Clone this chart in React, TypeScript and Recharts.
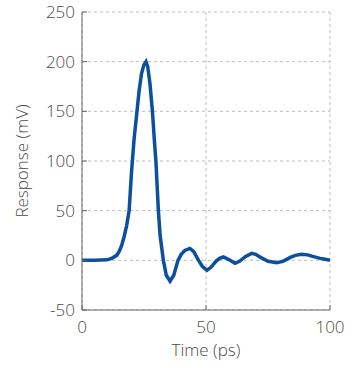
import React from 'react';
import { LineChart, Line, XAxis, YAxis, CartesianGrid } from 'recharts';

// time in ps, response in mV
const timePs = [
  0, 5, 10, 12, 14, 15, 16, 17, 18, 19, 20, 21, 22, 23, 24, 25, 25.8, 26.5, 27.4, 28.4,
  29.2, 29.8, 30.8, 31.5, 32.8, 34, 35.5, 37, 38.7, 40, 41.5, 43.5, 45, 47, 48.5, 50.4,
  52, 54, 55.5, 57, 59, 61.7, 63.5, 66, 68.4, 70, 72, 75, 78.5, 81, 84, 86, 88.6, 91,
  93, 96, 98, 100,
];
const responseMv = [
  0, 0, 0.5, 2, 5, 9, 15, 24, 35, 50, 90, 122, 146, 170, 188, 197, 200, 195, 178, 150,
  120, 100, 50, 25, 0, -15, -21, -15, 0, 6, 10, 12, 9, 0, -6, -10,
  -7, -1, 2, 3.5, 1, -3, -1, 4, 7, 6, 3, -1, -2.5, -1, 3, 5, 6, 5.5,
  4, 2, 1, 0,
];
const xTicks = [0, 50, 100];
const yTicks = [-50, 0, 50, 100, 150, 200, 250];

const data = timePs.map((t, i) => ({ t, v: responseMv[i] }));

const font = '"Open Sans", sans-serif';
const textColor = '#4a4a4a';
const axisColor = '#666';
const textStyle = { fill: textColor, fontSize: 17, fontFamily: font, fontWeight: 300 };

export default function App() {
  return (
    <div style={{ position: 'absolute', left: 0, top: 0, width: 359, height: 368, background: '#fff' }}>
      <LineChart width={359} height={368} data={data} margin={{ top: 12, right: 29, bottom: 8, left: 0 }}>
        <CartesianGrid stroke="#bdbdbd" strokeDasharray="3 3" />
        <XAxis
          dataKey="t"
          type="number"
          domain={[0, 100]}
          ticks={xTicks}
          height={50}
          tickSize={-5}
          tickMargin={16}
          stroke={axisColor}
          tick={textStyle}
          label={{ value: 'Time (ps)', position: 'insideBottom', offset: 4, ...textStyle }}
        />
        <XAxis xAxisId="top" dataKey="t" type="number" domain={[0, 100]} orientation="top" height={0} tick={false} tickLine={false} stroke={axisColor} />
        <YAxis
          type="number"
          domain={[-50, 250]}
          ticks={yTicks}
          width={82}
          tickSize={-5}
          tickMargin={12}
          stroke={axisColor}
          tick={textStyle}
          label={{ value: 'Response (mV)', angle: -90, position: 'insideLeft', offset: 22, ...textStyle, style: { textAnchor: 'middle' } }}
        />
        <YAxis yAxisId="right" type="number" domain={[-50, 250]} orientation="right" width={0} tick={false} tickLine={false} stroke={axisColor} />
        <Line
          dataKey="v"
          type="linear"
          stroke="#0b4f9f"
          strokeWidth={3.5}
          dot={false}
          isAnimationActive={false}
        />
      </LineChart>
    </div>
  );
}
